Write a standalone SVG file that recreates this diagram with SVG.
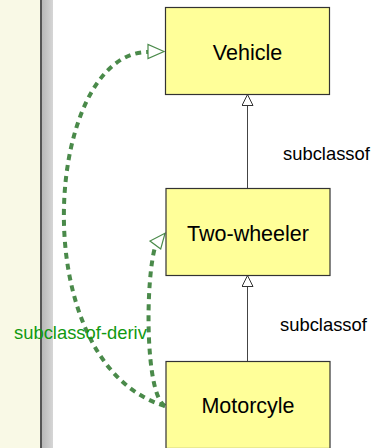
<svg xmlns="http://www.w3.org/2000/svg" width="377" height="448" viewBox="0 0 377 448">
<defs>
<linearGradient id="bar" x1="0" y1="0" x2="1" y2="0">
<stop offset="0" stop-color="#b8b8b8"/>
<stop offset="1" stop-color="#d6d6d6"/>
</linearGradient>
<marker id="gen" viewBox="0 0 12 12" refX="11.5" refY="6" markerWidth="12" markerHeight="12" markerUnits="userSpaceOnUse" orient="auto">
<path d="M0.5,0.5 L11.5,6 L0.5,11.5 Z" fill="#fff" stroke="#333" stroke-width="1"/>
</marker>
</defs>
<style>
.node rect{fill:#ffff99;stroke:#333;stroke-width:1.2}
.node text{font-family:"Liberation Sans",Arial,sans-serif;font-size:21.5px;fill:#000;text-anchor:middle}
.edge{fill:none;stroke:#444;stroke-width:1}
.lbl{font-family:"Liberation Sans",Arial,sans-serif;font-size:18.4px;fill:#000}
.deriv{fill:none;stroke:#4a8a4a;stroke-width:4;stroke-dasharray:6 5}
.dhead{fill:#fff;stroke:#4a8a4a;stroke-width:1.2}
.dlbl{font-family:"Liberation Sans",Arial,sans-serif;font-size:18.4px;fill:#119911}
</style>
<rect x="0" y="0" width="377" height="448" fill="#fff"/>
<rect x="0" y="0" width="40" height="448" fill="#f9f9e6"/>
<rect x="40" y="0" width="2" height="448" fill="#555"/>
<rect x="42" y="0" width="11" height="448" fill="url(#bar)"/>
<g id="connectors">
<path class="edge" d="M247.5,188 L247.5,94.5" marker-end="url(#gen)"/>
<path class="edge" d="M247.5,361 L247.5,275.5" marker-end="url(#gen)"/>
<text class="lbl" x="283" y="160">subclassof</text>
<text class="lbl" x="280" y="331">subclassof</text>
<path class="deriv" d="M165,406 C22,363 44,52 148,52"/>
<polygon class="dhead" points="164,51.5 148,44.5 148,58.5"/>
<path class="deriv" d="M165,406 C145,395 145,280 155.5,245.5"/>
<polygon class="dhead" points="165,233.3 150,241 160.7,249"/>
<text class="dlbl" x="14" y="339">subclassof-deriv</text>
</g>
<g id="vehicle" class="node">
<rect x="165.5" y="7.5" width="164" height="87"/>
<text x="247.5" y="60">Vehicle</text>
</g>
<g id="two-wheeler" class="node">
<rect x="166" y="188.5" width="164" height="87"/>
<text x="248" y="241">Two-wheeler</text>
</g>
<g id="motorcyle" class="node">
<rect x="166" y="361.5" width="164" height="87"/>
<text x="248" y="413">Motorcyle</text>
</g>
</svg>
